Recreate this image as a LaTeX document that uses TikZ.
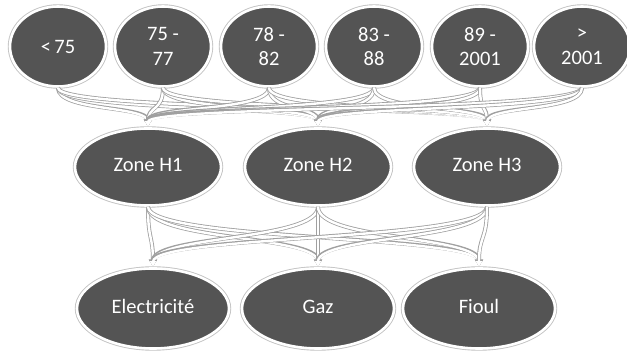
\documentclass[tikz,border=0pt]{standalone}
\usepackage{fontspec}
\setmainfont{Carlito}
\usetikzlibrary{arrows.meta,shapes.geometric}
\definecolor{nodefill}{RGB}{84,84,84}
\definecolor{rimgray}{RGB}{195,195,195}
\definecolor{conngray}{RGB}{160,160,160}
\tikzset{
  oval/.style={ellipse, fill=nodefill, draw=white, line width=2.6pt, text=white,
    font=\fontsize{20.5}{24.5}\selectfont, align=center, inner sep=0pt,
    preaction={draw=rimgray, line width=4.4pt}},
  topoval/.style={oval, minimum width=96pt, minimum height=80pt},
  zoneoval/.style={oval, minimum width=146pt, minimum height=77pt,
    text height=14pt, text depth=4pt},
  enoval/.style={oval, minimum width=152pt, minimum height=80pt,
    text height=14pt, text depth=4pt},
  conn/.style={draw=white, line width=2.4pt, -{Latex[length=6pt,width=7pt]},
    preaction={draw=conngray, line width=4pt, -{Latex[length=7.5pt,width=9pt]}}}
}
\begin{document}
\begin{tikzpicture}[x=1pt,y=-1pt]
\useasboundingbox[fill=white] (0,0) rectangle (627,352);
% top row
\node[topoval] (t1) at (58,46.5) {<\,75};
\node[topoval] (t2) at (163,46.5) {75 -\\77};
\node[topoval] (t3) at (269,46.5) {78 -\\82};
\node[topoval] (t4) at (374,46.5) {83 -\\88};
\node[topoval] (t5) at (480,46.5) {89 -\\2001};
\node[topoval] (t6) at (582,46.5) {>\\2001};
% zones
\node[zoneoval] (z1) at (148,167) {Zone H1};
\node[zoneoval] (z2) at (318,167) {Zone H2};
\node[zoneoval] (z3) at (487,167) {Zone H3};
% energies
\node[enoval] (e1) at (153,308.5) {Electricité};
\node[enoval] (e2) at (318,308.5) {Gaz};
\node[enoval] (e3) at (479,308.5) {Fioul};
% connectors top -> zones
\foreach \s in {t1,t2,t3,t4,t5,t6}{
  \foreach \t in {z1,z2,z3}{
    \draw[conn] (\s.south) .. controls +(0,24) and +(0,-22) .. (\t.north);
  }
}
% connectors zones -> energies
\foreach \s in {z1,z2,z3}{
  \foreach \t in {e1,e2,e3}{
    \draw[conn] (\s.south) .. controls +(0,34) and +(0,-32) .. (\t.north);
  }
}
\end{tikzpicture}
\end{document}
